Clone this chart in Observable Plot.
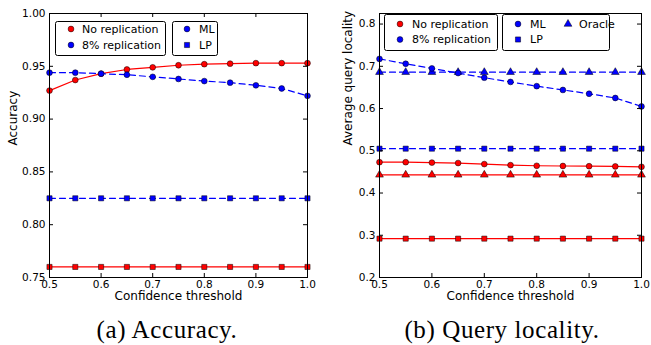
<!DOCTYPE html>
<html>
<head>
<meta charset="utf-8">
<script src="https://cdn.jsdelivr.net/npm/d3@7"></script>
<script src="https://cdn.jsdelivr.net/npm/@observablehq/plot@0.6"></script>
<style>
  html, body { margin: 0; padding: 0; background: #fff; }
  #root { position: relative; width: 651px; height: 345px; overflow: hidden; font-family: "DejaVu Sans", sans-serif; }
  .panel { position: absolute; top: 0; }
  .caption { position: absolute; top: 315px; width: 300px; text-align: center; font-family: "Liberation Serif", serif; font-size: 25px; letter-spacing: 0.6px; line-height: 30px; color: #000; }
  #legend { position: absolute; left: 0; top: 0; pointer-events: none; }
</style>
</head>
<body>
<div id="root"></div>
<script>
// ---- data ----
const thresholds = [0.5, 0.55, 0.6, 0.65, 0.7, 0.75, 0.8, 0.85, 0.9, 0.95, 1.0];
const xTicks = [0.5, 0.6, 0.7, 0.8, 0.9, 1.0];
const accTicks = [0.75, 0.80, 0.85, 0.90, 0.95, 1.00];
const locTicks = [0.2, 0.3, 0.4, 0.5, 0.6, 0.7, 0.8];

// (a) Accuracy
const accNoRepML = [0.927, 0.937, 0.943, 0.947, 0.949, 0.951, 0.952, 0.9525, 0.953, 0.953, 0.953];
const accRepML   = [0.944, 0.944, 0.943, 0.942, 0.940, 0.938, 0.936, 0.9345, 0.932, 0.929, 0.922];
const accNoRepLP = [0.760, 0.760, 0.760, 0.760, 0.760, 0.760, 0.760, 0.760, 0.760, 0.760, 0.760];
const accRepLP   = [0.825, 0.825, 0.825, 0.825, 0.825, 0.825, 0.825, 0.825, 0.825, 0.825, 0.825];

// (b) Query locality
const locNoRepML     = [0.473, 0.473, 0.472, 0.471, 0.4685, 0.466, 0.4645, 0.464, 0.4635, 0.463, 0.462];
const locNoRepOracle = [0.443, 0.443, 0.443, 0.443, 0.443, 0.443, 0.443, 0.443, 0.443, 0.443, 0.443];
const locNoRepLP     = [0.292, 0.292, 0.292, 0.292, 0.292, 0.292, 0.292, 0.292, 0.292, 0.292, 0.292];
const locRepML       = [0.7175, 0.706, 0.695, 0.684, 0.673, 0.663, 0.653, 0.644, 0.635, 0.625, 0.605];
const locRepOracle   = [0.686, 0.686, 0.686, 0.686, 0.686, 0.686, 0.686, 0.686, 0.686, 0.686, 0.686];
const locRepLP       = [0.505, 0.505, 0.505, 0.505, 0.505, 0.505, 0.505, 0.505, 0.505, 0.505, 0.505];

const RED = "#ff0000", BLUE = "#0000ff";
const styleOf = {
  none: {stroke: RED, dash: null},
  rep:  {stroke: BLUE, dash: "6,4"}
};
const H = 305, MT = 13, MB = 28, TICK = 4;

function rows(ys) { return thresholds.map((x, i) => ({x, y: ys[i]})); }

function seriesMarks(ys, rep, symbol) {
  const s = styleOf[rep];
  const data = rows(ys);
  return [
    Plot.line(data, {x: "x", y: "y", stroke: s.stroke, strokeWidth: 1.2, strokeDasharray: s.dash}),
    Plot.dot(data, {x: "x", y: "y", symbol, r: 2.9, fill: s.stroke, stroke: "#000", strokeWidth: 0.5})
  ];
}

function panel({width, marginLeft, marginRight, yDomain, yTicks, yFormat, yLabel, yLabelDx, series}) {
  const plotH = H - MT - MB, plotW = width - marginLeft - marginRight;
  return Plot.plot({
    width, height: H,
    marginLeft, marginRight, marginTop: MT, marginBottom: MB,
    style: {fontFamily: "DejaVu Sans", fontSize: "10.5px", color: "#000", background: "transparent"},
    x: {domain: [0.5, 1.0], ticks: xTicks, tickFormat: d3.format(".1f"), tickSize: 0, tickPadding: 3, label: null},
    y: {domain: yDomain, ticks: yTicks, tickFormat: d3.format(yFormat), tickSize: 0, tickPadding: 4, label: null},
    marks: [
      ...series,
      // inward ticks on all four sides
      Plot.tickX(xTicks, {x: d => d, insetTop: plotH - TICK, stroke: "#000"}),
      Plot.tickX(xTicks, {x: d => d, insetBottom: plotH - TICK, stroke: "#000"}),
      Plot.tickY(yTicks, {y: d => d, insetRight: plotW - TICK, stroke: "#000"}),
      Plot.tickY(yTicks, {y: d => d, insetLeft: plotW - TICK, stroke: "#000"}),
      Plot.frame({stroke: "#000", strokeWidth: 1}),
      Plot.text(["Confidence threshold"], {frameAnchor: "bottom", dy: 22, fontSize: 12, text: d => d}),
      Plot.text([yLabel], {frameAnchor: "left", dx: yLabelDx, rotate: -90, fontSize: 12, text: d => d})
    ]
  });
}

const root = document.getElementById("root");

const left = panel({
  width: 325, marginLeft: 49, marginRight: 18,
  yDomain: [0.75, 1.0], yTicks: accTicks, yFormat: ".2f",
  yLabel: "Accuracy", yLabelDx: -36,
  series: [
    ...seriesMarks(accNoRepML, "none", "circle"),
    ...seriesMarks(accRepML, "rep", "circle"),
    ...seriesMarks(accRepLP, "rep", "square"),
    ...seriesMarks(accNoRepLP, "none", "square")
  ]
});
left.classList.add("panel");
left.style.left = "0px";
root.appendChild(left);

const right = panel({
  width: 321, marginLeft: 49, marginRight: 10,
  yDomain: [0.2, 0.825], yTicks: locTicks, yFormat: ".1f",
  yLabel: "Average query locality", yLabelDx: -31,
  series: [
    ...seriesMarks(locNoRepML, "none", "circle"),
    ...seriesMarks(locNoRepOracle, "none", "triangle"),
    ...seriesMarks(locNoRepLP, "none", "square"),
    ...seriesMarks(locRepOracle, "rep", "triangle"),
    ...seriesMarks(locRepML, "rep", "circle"),
    ...seriesMarks(locRepLP, "rep", "square")
  ]
});
right.classList.add("panel");
right.style.left = "330px";
root.appendChild(right);

// ---- legends ----
const legendBoxes = [
  {x: 55, y: 21, w: 110, h: 34, items: [
    {mx: 71, my: 29, sym: "circle", fill: RED, label: "No replication", tx: 82},
    {mx: 71, my: 45, sym: "circle", fill: BLUE, label: "8% replication", tx: 82}
  ]},
  {x: 172, y: 21, w: 45, h: 34, items: [
    {mx: 187, my: 29, sym: "circle", fill: BLUE, label: "ML", tx: 199},
    {mx: 187, my: 45, sym: "square", fill: BLUE, label: "LP", tx: 199}
  ]},
  {x: 384, y: 14, w: 113, h: 36, items: [
    {mx: 400, my: 24, sym: "circle", fill: RED, label: "No replication", tx: 412},
    {mx: 400, my: 39.5, sym: "circle", fill: BLUE, label: "8% replication", tx: 412}
  ]},
  {x: 502, y: 14, w: 107, h: 36, items: [
    {mx: 518, my: 24, sym: "circle", fill: BLUE, label: "ML", tx: 530},
    {mx: 568, my: 24, sym: "triangle", fill: BLUE, label: "Oracle", tx: 579},
    {mx: 518, my: 39.5, sym: "square", fill: BLUE, label: "LP", tx: 530}
  ]}
];
const symbols = {circle: d3.symbolCircle, square: d3.symbolSquare, triangle: d3.symbolTriangle};
const lsvg = d3.create("svg").attr("id", "legend").attr("width", 651).attr("height", 345);
for (const b of legendBoxes) {
  lsvg.append("rect").attr("x", b.x + 0.5).attr("y", b.y + 0.5).attr("width", b.w).attr("height", b.h)
    .attr("rx", 2).attr("fill", "#fff").attr("stroke", "#000").attr("stroke-width", 1);
  for (const it of b.items) {
    lsvg.append("path").attr("d", d3.symbol(symbols[it.sym], Math.PI * 2.9 * 2.9)())
      .attr("transform", `translate(${it.mx},${it.my})`)
      .attr("fill", it.fill).attr("stroke", "#000").attr("stroke-width", 0.5);
    lsvg.append("text").attr("x", it.tx).attr("y", it.my).attr("dy", "0.36em")
      .attr("font-family", "DejaVu Sans").attr("font-size", 11).text(it.label);
  }
}
root.appendChild(lsvg.node());

// ---- captions ----
const captions = [{text: "(a) Accuracy.", cx: 167}, {text: "(b) Query locality.", cx: 502}];
for (const c of captions) {
  const d = document.createElement("div");
  d.className = "caption";
  d.style.left = (c.cx - 150) + "px";
  d.textContent = c.text;
  root.appendChild(d);
}
</script>
</body>
</html>
